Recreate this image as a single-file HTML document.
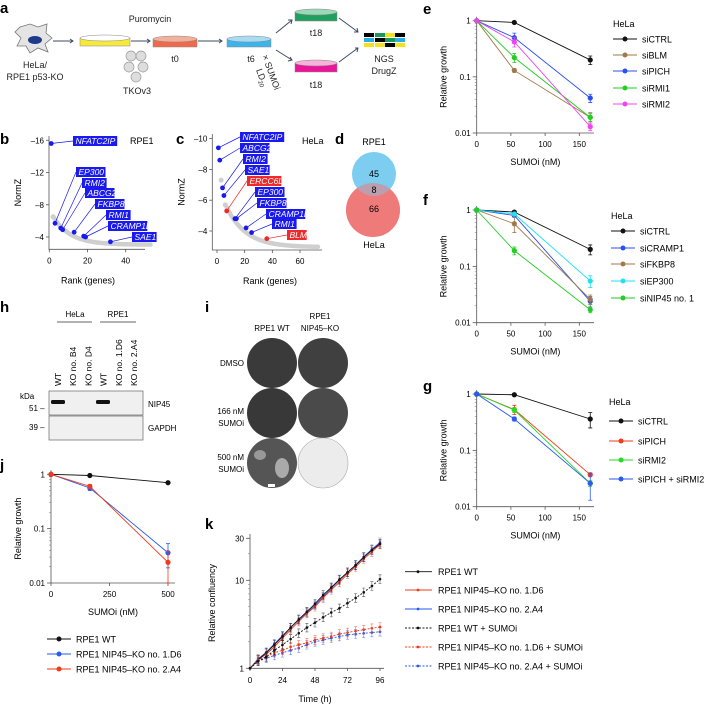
<!DOCTYPE html>
<html><head><meta charset="utf-8"><style>
html,body{margin:0;padding:0;background:#fff;}
svg{display:block;font-family:"Liberation Sans",sans-serif;}
</style></head><body>
<svg id="fig" width="710" height="709" viewBox="0 0 710 709" xmlns="http://www.w3.org/2000/svg">
<g font-weight="bold" font-size="15">
<text x="0" y="13">a</text>
<text x="0" y="144">b</text>
<text x="176" y="144">c</text>
<text x="335" y="144">d</text>
<text x="423" y="14">e</text>
<text x="423" y="205">f</text>
<text x="423" y="391">g</text>
<text x="0" y="312">h</text>
<text x="205" y="312">i</text>
<text x="0" y="470">j</text>
<text x="205" y="529">k</text>
</g>
<!-- panel a schematic -->
<g font-size="9" fill="#222">
<path d="M20,27 L30,24 L38,27 L47,24 L46,33 L52,38 L45,44 L48,52 L38,48 L30,53 L26,46 L17,46 L21,38 L15,32 Z" fill="#e4e4e4" stroke="#777" stroke-width="0.8"/>
<ellipse cx="35" cy="40" rx="7" ry="4" fill="#1e3a8a"/>
<text x="35" y="68" text-anchor="middle">HeLa/</text>
<text x="35" y="80" text-anchor="middle">RPE1 p53-KO</text>
<g stroke="#3f4b63" stroke-width="1" fill="none">
<path d="M53,41 L73,41 M70,39 L73,41 L70,43"/>
<path d="M131,41 L150,41 M147,39 L150,41 L147,43"/>
<path d="M198,41 L222,41 M219,39 L222,41 L219,43"/>
<path d="M276,33 L292,20 M288,20 L292,20 L291,24"/>
<path d="M276,50 L292,60 M288,61 L292,60 L290,57"/>
<path d="M339,18 L358,32 M354,32 L358,32 L357,28"/>
<path d="M339,62 L358,48 M355,48 L358,48 L357,52"/>
</g>
<g><rect x="80" y="38" width="50" height="8" fill="#f7e93b" stroke="#888" stroke-width="0.5"/><ellipse cx="105" cy="38" rx="25" ry="3" fill="#fff" stroke="#888" stroke-width="0.5"/></g>
<g><rect x="153" y="39" width="44" height="8" fill="#ef6a4a" stroke="#888" stroke-width="0.5"/><ellipse cx="175" cy="39" rx="22" ry="3" fill="#f5b09c" stroke="#888" stroke-width="0.5"/></g>
<g><rect x="227" y="39" width="44" height="8" fill="#3cb4ea" stroke="#888" stroke-width="0.5"/><ellipse cx="249" cy="39" rx="22" ry="3" fill="#a8dcf5" stroke="#888" stroke-width="0.5"/></g>
<g><rect x="295" y="12" width="42" height="9" fill="#20a060" stroke="#888" stroke-width="0.5"/><ellipse cx="316" cy="12" rx="21" ry="3" fill="#9bd8b5" stroke="#888" stroke-width="0.5"/></g>
<g><rect x="295" y="63" width="42" height="9" fill="#e9169a" stroke="#888" stroke-width="0.5"/><ellipse cx="316" cy="63" rx="21" ry="3" fill="#f6b2d9" stroke="#888" stroke-width="0.5"/></g>
<g fill="#ddd" stroke="#999" stroke-width="0.7">
<circle cx="131" cy="56" r="5"/><circle cx="141" cy="56" r="5"/><circle cx="129" cy="67" r="5"/><circle cx="143" cy="67" r="5"/><circle cx="136" cy="77" r="5"/></g>
<text x="150" y="22" text-anchor="middle">Puromycin</text>
<text x="137" y="94" text-anchor="middle">TKOv3</text>
<text x="175" y="62" text-anchor="middle">t0</text>
<text x="251" y="62" text-anchor="middle">t6</text>
<text transform="translate(262,56) rotate(70)">× SUMOi</text>
<text transform="translate(256,70) rotate(70)">LD<tspan font-size="6" dy="2">20</tspan></text>
<text x="316" y="36" text-anchor="middle">t18</text>
<text x="316" y="88" text-anchor="middle">t18</text>
<g>
<rect x="364" y="33" width="10" height="4" fill="#000"/><rect x="375" y="33" width="10" height="4" fill="#1a9a5a"/><rect x="385" y="33" width="10" height="4" fill="#f2e21a"/><rect x="395" y="33" width="10" height="4" fill="#000"/>
<rect x="364" y="38" width="10" height="4" fill="#2aaee8"/><rect x="375" y="38" width="10" height="4" fill="#000"/><rect x="385" y="38" width="10" height="4" fill="#1a9a5a"/><rect x="395" y="38" width="10" height="4" fill="#2aaee8"/>
<rect x="364" y="43" width="10" height="4" fill="#f2e21a"/><rect x="375" y="43" width="10" height="4" fill="#f2e21a"/><rect x="385" y="43" width="10" height="4" fill="#000"/><rect x="395" y="43" width="10" height="4" fill="#f2e21a"/></g>
<text x="384" y="62" text-anchor="middle">NGS</text>
<text x="384" y="74" text-anchor="middle">DrugZ</text>
</g>
<!-- panel d venn -->
<g font-size="9" text-anchor="middle">
<circle cx="373" cy="210" r="27" fill="#ef7a7a"/>
<circle cx="374" cy="174" r="22" fill="#7ccdf0"/>
<circle cx="373" cy="210" r="27" fill="#ef7a7a" opacity="0.55"/>
<text x="374" y="145">RPE1</text>
<text x="374" y="177">45</text>
<text x="374" y="193">8</text>
<text x="374" y="212">66</text>
<text x="374" y="248">HeLa</text>
</g>
<!-- panel h blot -->
<g font-size="8">
<text x="75" y="317" text-anchor="middle">HeLa</text>
<text x="118" y="317" text-anchor="middle">RPE1</text>
<line x1="57" y1="322" x2="92" y2="322" stroke="#333" stroke-width="0.7"/>
<line x1="100" y1="322" x2="136" y2="322" stroke="#333" stroke-width="0.7"/>
<g id="lanes"></g>
<rect x="49" y="391" width="94" height="24" fill="#f0f0f0" stroke="#666" stroke-width="0.7"/>
<rect x="49" y="416" width="94" height="24" fill="#f0f0f0" stroke="#666" stroke-width="0.7"/>
<rect x="51" y="400" width="14" height="4" rx="1.5" fill="#111"/><rect x="96" y="400" width="14" height="4" rx="1.5" fill="#111"/>
<text x="20" y="399">kDa</text>
<text x="29" y="411">51 –</text>
<text x="29" y="430">39 –</text>
<text x="148" y="407">NIP45</text>
<text x="148" y="431">GAPDH</text>
</g>
<!-- panel i -->
<g font-size="8">
<text x="272" y="331" text-anchor="middle">RPE1 WT</text>
<text x="320" y="319" text-anchor="middle">RPE1</text>
<text x="320" y="331" text-anchor="middle">NIP45–KO</text>
<text x="244" y="366" text-anchor="end">DMSO</text>
<text x="244" y="414" text-anchor="end">166 nM</text>
<text x="244" y="426" text-anchor="end">SUMOi</text>
<text x="244" y="460" text-anchor="end">500 nM</text>
<text x="244" y="472" text-anchor="end">SUMOi</text>
<circle cx="272" cy="363" r="25" fill="#3a3a3a"/><circle cx="323" cy="363" r="25" fill="#404040"/>
<circle cx="272" cy="413" r="25" fill="#383838"/><circle cx="323" cy="413" r="25" fill="#4a4a4a"/>
<circle cx="272" cy="463" r="25" fill="#555"/><circle cx="323" cy="463" r="25" fill="#ececec" stroke="#aaa" stroke-width="0.6"/>
<ellipse cx="282" cy="468" rx="7" ry="10" fill="#aaa"/><ellipse cx="260" cy="455" rx="6" ry="5" fill="#999"/>
<rect x="268" y="484" width="7" height="3" fill="#fff"/>
</g>
<g id="plots"></g>
</svg>
<script>
// ===== data =====
const eDoses=[0,55,166];
const eNames=["siCTRL","siBLM","siPICH","siRMI1","siRMI2"];
const eColors=["#111","#a0784a","#2a4ff0","#22cc22","#ee44ee"];
const eCTRL=[1,0.93,0.2], eBLM=[1,0.13,0.019], ePICH=[1,0.5,0.042], eRMI1=[1,0.22,0.019], eRMI2=[1,0.42,0.013];
const eErr=[[0,0.03,0.035],[0,0.01,0.004],[0,0.1,0.007],[0,0.04,0.003],[0,0.08,0.002]];
const fNames=["siCTRL","siCRAMP1","siFKBP8","siEP300","siNIP45 no. 1"];
const fColors=["#111","#2a4ff0","#a0784a","#22e0f0","#22cc22"];
const fCTRL=[1,0.92,0.2], fCRAMP1=[1,0.8,0.024], fFKBP8=[1,0.57,0.026], fEP300=[1,0.85,0.055], fNIP45=[1,0.19,0.017];
const fErr=[[0,0.03,0.04],[0,0.05,0.005],[0,0.17,0.005],[0,0.04,0.013],[0,0.03,0.002]];
const gNames=["siCTRL","siPICH","siRMI2","siPICH + siRMI2"];
const gColors=["#111","#f03a1a","#22dd22","#2a5af0"];
const gCTRL=[1,0.97,0.36], gPICH=[1,0.53,0.037], gRMI2=[1,0.52,0.026], gBOTH=[1,0.36,0.026];
const gErr=[[0,0.03,0.11],[0,0.1,0.003],[0,0.05,0.003],[0,0.03,0.013]];
const jDoses=[0,166,500];
const jNames=["RPE1 WT","RPE1 NIP45–KO no. 1.D6","RPE1 NIP45–KO no. 2.A4"];
const jColors=["#111","#2a5af0","#f03a1a"];
const jWT=[1,0.95,0.7], jD6=[1,0.56,0.036], jA4=[1,0.6,0.024];
const jErr=[[0,0.02,0.02],[0,0.06,0.017],[0,0.05,0.014]];
const kTime=[0,6,12,18,24,30,36,42,48,54,60,66,72,78,84,90,96];
const kWT=[1,1.25,1.5,1.85,2.3,2.9,3.6,4.4,5.4,6.8,8.3,10.2,12.3,14.8,18.2,22,26];
const kD6=[1,1.28,1.52,1.9,2.35,2.9,3.55,4.3,5.2,6.5,8.1,10,12.3,15,18.5,22.5,27];
const kA4=[1,1.25,1.45,1.75,2.2,2.75,3.4,4.2,5.0,6.3,7.8,9.5,11.8,14.2,17.5,21,25.5];
const kWTS=[1,1.2,1.35,1.6,1.85,2.15,2.5,2.9,3.3,3.8,4.3,4.8,5.5,6.3,7.3,8.6,10.3];
const kA4S=[1,1.25,1.35,1.5,1.6,1.75,1.85,1.95,2.1,2.2,2.3,2.45,2.55,2.65,2.75,2.85,2.95];
const kD6S=[1,1.2,1.3,1.4,1.5,1.6,1.7,1.85,2,2.1,2.2,2.3,2.4,2.45,2.5,2.55,2.6];
const kNames=["RPE1 WT","RPE1 NIP45–KO no. 1.D6","RPE1 NIP45–KO no. 2.A4","RPE1 WT + SUMOi","RPE1 NIP45–KO no. 1.D6 + SUMOi","RPE1 NIP45–KO no. 2.A4 + SUMOi"];
const kColors=["#111","#f03a1a","#2a5af0","#111","#f03a1a","#2a5af0"];
const bRank=[1,3,6,7,13,18,19,32];
const bNorm=[-15.6,-5.7,-5.1,-4.9,-4.6,-4.1,-4.0,-3.4];
const bGenes=["NFATC2IP","EP300","RMI2","ABCG2","FKBP8","RMI1","CRAMP1L","SAE1"];
const cRank=[1,2,4,5,7,13,14,21,25,36];
const cNorm=[-9.4,-8.6,-6.8,-6.3,-5.3,-4.8,-4.8,-4.2,-3.9,-3.5];
const cGenes=["NFATC2IP","ABCG2","RMI2","SAE1","ERCC6L","EP300","FKBP8","CRAMP1L","RMI1","BLM"];
const cRed=[false,false,false,false,true,false,false,false,false,true];

const NS="http://www.w3.org/2000/svg";
const root=document.getElementById('plots');
function el(tag,attrs,parent,txt){const e=document.createElementNS(NS,tag);for(const k in attrs)e.setAttribute(k,attrs[k]);if(txt!==undefined)e.textContent=txt;(parent||root).appendChild(e);return e;}
function logAxis(x0,yTop,yBot,decTop,decBot){return v=>yTop+(decTop-Math.log10(v))/(decTop-decBot)*(yBot-yTop);}

function doseChart(name,opt){
  const g=el('g',{});
  
  
  const X=d=>opt.x0+d*opt.xs, Y=logAxis(0,opt.y1,opt.y01,0,-2);
  el('path',{d:`M${opt.x0},${opt.y1-4}V${opt.y01}H${opt.xEnd}`,stroke:'#555','stroke-width':0.8,fill:'none'},g);
  [1,0.1,0.01].forEach((v,i)=>{el('line',{x1:opt.x0-4,x2:opt.x0,y1:Y(v),y2:Y(v),stroke:'#555','stroke-width':0.8},g);
    const t=el('text',{x:opt.x0-6,y:Y(v)+3,'font-size':8,'text-anchor':'end'},g,["1","0.1","0.01"][i]);
    });
  for(let d=-2;d<0;d++)for(let m=2;m<10;m++){const yy=Y(m*Math.pow(10,d));el('line',{x1:opt.x0-2,x2:opt.x0,y1:yy,y2:yy,stroke:'#777','stroke-width':0.5},g);}
  opt.ticks.forEach(v=>{el('line',{x1:X(v),x2:X(v),y1:opt.y01,y2:opt.y01+3,stroke:'#555','stroke-width':0.8},g);
    const t=el('text',{x:X(v),y:opt.y01+14,'font-size':8,'text-anchor':'middle'},g,String(v));
    });
  const xt=el('text',{x:(opt.x0+opt.xEnd)/2,y:opt.y01+32,'font-size':9,'text-anchor':'middle'},g,'SUMOi (nM)');
  
  const yt=el('text',{transform:`translate(${opt.x0-30},${(opt.y1+opt.y01)/2}) rotate(-90)`,'font-size':9,'text-anchor':'middle'},g,'Relative growth');
  
  opt.series.forEach((s,i)=>{
    const pts=s.map((v,j)=>[X(opt.doses[j]),Y(v)]);
    const ln=el('polyline',{points:pts.map(p=>p.join(',')).join(' '),fill:'none',stroke:opt.colors[i],'stroke-width':0.9},g);
    
    s.forEach((v,j)=>{const e=opt.err[i][j];if(e>0){const a=Y(v+e),b=Y(Math.max(v-e,v*0.3));
      el('path',{d:`M${pts[j][0]},${a}V${b}M${pts[j][0]-2},${a}h4M${pts[j][0]-2},${b}h4`,stroke:opt.colors[i],'stroke-width':0.8,fill:'none'},g);}
      const c=el('circle',{cx:pts[j][0],cy:pts[j][1],r:2.6,fill:opt.colors[i]},g);
      });
  });
  if(opt.legendTitle){const lt=el('text',{x:opt.lx,y:opt.lTitleY,'font-size':9},g,opt.legendTitle);
    }
  opt.names.forEach((n,i)=>{const y=opt.lys[i];
    el('line',{x1:opt.lx,x2:opt.lx+24,y1:y,y2:y,stroke:opt.colors[i],'stroke-width':0.9},g);
    el('circle',{cx:opt.lx+12,cy:y,r:2.5,fill:opt.colors[i]},g);
    const t=el('text',{x:opt.lx+29,y:y+3.5,'font-size':9},g,n);
    });
}
const xsE=(579.3-476.7)/150;
doseChart('panel-e-chart',{x0:476.7,xs:xsE,xEnd:594,y1:20.7,y01:133,ticks:[0,50,100,150],doses:eDoses,series:[eCTRL,eBLM,ePICH,eRMI1,eRMI2],err:eErr,colors:eColors,names:eNames,legendTitle:'HeLa',lx:613,lTitleY:27,lys:[39,55,71,88,104]});
doseChart('panel-f-chart',{x0:476.7,xs:xsE,xEnd:594,y1:210,y01:322.7,ticks:[0,50,100,150],doses:eDoses,series:[fCTRL,fCRAMP1,fFKBP8,fEP300,fNIP45],err:fErr,colors:fColors,names:fNames,legendTitle:'HeLa',lx:611,lTitleY:219,lys:[231,248,264,281,298]});
doseChart('panel-g-chart',{x0:476.7,xs:xsE,xEnd:594,y1:394,y01:506.7,ticks:[0,50,100,150],doses:eDoses,series:[gCTRL,gPICH,gRMI2,gBOTH],err:gErr,colors:gColors,names:gNames,legendTitle:'HeLa',lx:609,lTitleY:405,lys:[421,441,460,479]});
doseChart('panel-j-chart',{x0:51,xs:(168-51)/500,xEnd:175,y1:474.3,y01:583,ticks:[0,250,500],doses:jDoses,series:[jWT,jD6,jA4],err:jErr,colors:jColors,names:jNames,legendTitle:null,lx:47,lys:[639,654,669]});

// ranked plots
function rankChart(name,o){
  const g=el('g',{});
  
  
  const X=r=>o.x0+r*o.xs, Y=v=>o.yRef+(v-o.vRef)*o.ys;
  el('path',{d:`M${o.ax},${o.yTopAxis}V${o.yb}H${o.xEnd}`,stroke:'#555','stroke-width':0.8,fill:'none'},g);
  o.yt.forEach(v=>{el('line',{x1:o.ax-3,x2:o.ax,y1:Y(v),y2:Y(v),stroke:'#555','stroke-width':0.8},g);
    const t=el('text',{x:o.ax-5,y:Y(v)+3,'font-size':8,'text-anchor':'end'},g,String(v).replace('-','–'));
    });
  o.xt.forEach(v=>{el('line',{x1:X(v),x2:X(v),y1:o.yb,y2:o.yb+3,stroke:'#555','stroke-width':0.8},g);
    const t=el('text',{x:X(v),y:o.yb+14,'font-size':8,'text-anchor':'middle'},g,String(v));
    });
  const xt=el('text',{x:o.titleX,y:o.yb+34,'font-size':9,'text-anchor':'middle'},g,'Rank (genes)');
  
  const yt=el('text',{transform:`translate(${o.ax-28},${(o.yTopAxis+o.yb)/2}) rotate(-90)`,'font-size':9,'text-anchor':'middle'},g,'NormZ');
  
  const ct=el('text',{x:o.cellX,y:144,'font-size':9},g,o.cell);
  
  const gp=[];for(let r=o.grayStart;r<=o.grayEnd;r++){gp.push(X(r)+','+Y(o.grayF(r)));}
  el('polyline',{points:gp.join(' '),fill:'none',stroke:'#cfcfcf','stroke-width':4.5,'stroke-linecap':'round'},g);
  o.grayPts.forEach(p=>el('circle',{cx:X(p[0]),cy:Y(p[1]),r:2.5,fill:'#cfcfcf'},g));
  o.ranks.forEach((r,i)=>{const col=o.red&&o.red[i]?'#ee2a2a':'#1a1aee';
    const px=X(r),py=Y(o.norms[i]);
    const w=o.genes[i].length*4.9+5;const lx=o.lx[i],ly=o.ly[i];
    el('line',{x1:px,y1:py,x2:lx,y2:ly,stroke:col,'stroke-width':0.7},g);
    el('rect',{x:lx,y:ly-5,width:w,height:10,fill:col},g);
    const t=el('text',{x:lx+2.5,y:ly+3,'font-size':8.5,'font-style':'italic',fill:'#fff'},g,o.genes[i]);
    
    const c=el('circle',{cx:px,cy:py,r:2.4,fill:col},g);
    });
}
rankChart('panel-b-chart',{x0:49.3,xs:(125.7-49.3)/40,ax:49,yb:249.3,yTopAxis:136,xEnd:145,yRef:237,vRef:-4,ys:8.06,yt:[-16,-12,-8,-4],xt:[0,20,40],titleX:88,cell:'RPE1',cellX:130,
  grayStart:2,grayEnd:53,grayF:r=>-3.05-3.5*Math.exp(-(r-2)/9),grayPts:[[2,-6.5]],
  ranks:bRank,norms:bNorm,genes:bGenes,lx:[73,76,82,85,95,106,108,132],ly:[141,172,183,193,204,215,226,237]});
rankChart('panel-c-chart',{x0:217,xs:(300-217)/60,ax:212.3,yb:250,yTopAxis:134,xEnd:322,yRef:231,vRef:-4,ys:15.4,yt:[-10,-8,-6,-4],xt:[0,20,40,60],titleX:270,cell:'HeLa',cellX:302,
  grayStart:7,grayEnd:73,grayF:r=>-2.95-2.6*Math.exp(-(r-7)/14),grayPts:[[3,-7.3],[6,-5.7]],
  ranks:cRank,norms:cNorm,genes:cGenes,red:cRed,lx:[240,240,243,245,247,255,257,266,272,287],ly:[137,148,159,170,181,192,203,214,224,235]});

// panel k
(function(){
  const g=el('g',{});
  
  
  const x0=250,xs=(380-250)/96,Y=logAxis(0,538.3,668.3,Math.log10(30),0),X=t=>x0+t*xs;
  el('path',{d:`M${x0},534V668.3H384`,stroke:'#555','stroke-width':0.8,fill:'none'},g);
  [1,10,30].forEach(v=>{el('line',{x1:x0-4,x2:x0,y1:Y(v),y2:Y(v),stroke:'#555','stroke-width':0.8},g);
    const t=el('text',{x:x0-6,y:Y(v)+3,'font-size':8,'text-anchor':'end'},g,String(v));
    });
  [2,3,4,5,6,7,8,9,20].forEach(v=>el('line',{x1:x0-2,x2:x0,y1:Y(v),y2:Y(v),stroke:'#777','stroke-width':0.5},g));
  [0,24,48,72,96].forEach(v=>{el('line',{x1:X(v),x2:X(v),y1:668.3,y2:671,stroke:'#555','stroke-width':0.8},g);
    const t=el('text',{x:X(v),y:683,'font-size':8,'text-anchor':'middle'},g,String(v));
    });
  const xt=el('text',{x:315,y:702,'font-size':9,'text-anchor':'middle'},g,'Time (h)');
  
  const yt=el('text',{transform:'translate(215,603) rotate(-90)','font-size':9,'text-anchor':'middle'},g,'Relative confluency');
  
  const series=[kWT,kA4,kD6,kWTS,kA4S,kD6S];
  const order=[2,1,0,5,4,3];
  order.forEach(i=>{const s=series[i],col=kColors[i],dash=i>=3?'2,1.5':'none';
    const pts=s.map((v,j)=>[X(kTime[j]),Y(v)]);
    s.forEach((v,j)=>{if(j>0){const a=Y(v*1.12),b=Y(v/1.12);el('path',{d:`M${pts[j][0]},${a}V${b}M${pts[j][0]-1.5},${a}h3M${pts[j][0]-1.5},${b}h3`,stroke:col,'stroke-width':0.6,opacity:0.7,fill:'none'},g);}});
    const ln=el('polyline',{points:pts.map(p=>p.join(',')).join(' '),fill:'none',stroke:col,'stroke-width':0.9,'stroke-dasharray':dash},g);
    
    pts.forEach(p=>{const c=el('circle',{cx:p[0],cy:p[1],r:1.3,fill:col},g);
      });
  });
  const lys=[571.7,590,609,628,647,666];
  kNames.forEach((n,i)=>{const y=lys[i];
    el('line',{x1:405,x2:432,y1:y,y2:y,stroke:kColors[i],'stroke-width':0.9,'stroke-dasharray':i>=3?'2,1.5':'none'},g);
    el('circle',{cx:418,cy:y,r:1.4,fill:kColors[i]},g);
    const t=el('text',{x:438,y:y+3.5,'font-size':9},g,n);
    });
})();

// blot lanes
(function(){const lanes=document.getElementById('lanes');
  const labels=["WT","KO no. B4","KO no. D4","WT","KO no. 1.D6","KO no. 2.A4"];
  labels.forEach((l,i)=>{const x=58+i*15.2;
    const t=el('text',{transform:`translate(${x+3},386) rotate(-90)`,'font-size':8.5},lanes,l);
    
    el('rect',{x:x-6,y:426,width:13,height:3.5,rx:1.5,fill:'#111'},lanes);});
})();
</script>
</body></html>
